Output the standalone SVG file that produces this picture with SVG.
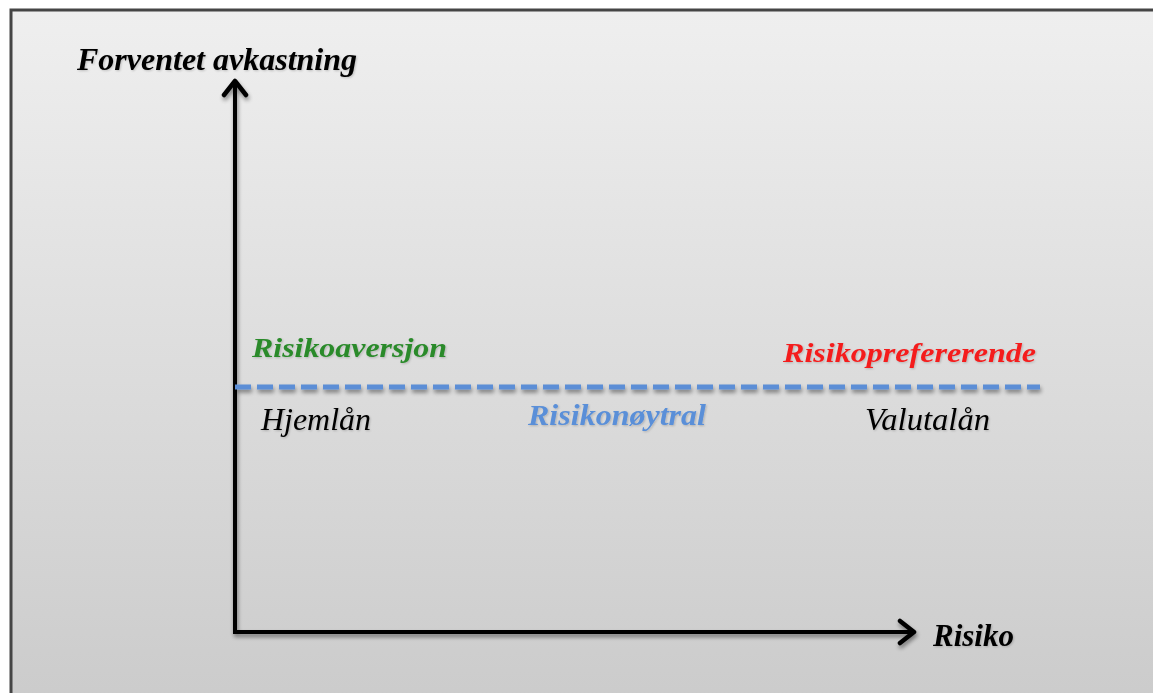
<svg xmlns="http://www.w3.org/2000/svg" width="1153" height="693" viewBox="0 0 1153 693">
  <defs>
    <linearGradient id="bg" x1="0" y1="0" x2="0" y2="1">
      <stop offset="0" stop-color="#efefef"/>
      <stop offset="1" stop-color="#cbcbcb"/>
    </linearGradient>
    <filter id="shadow" x="-5%" y="-5%" width="110%" height="110%">
      <feGaussianBlur in="SourceAlpha" stdDeviation="2"/>
      <feOffset dx="1" dy="3" result="b"/>
      <feComponentTransfer><feFuncA type="linear" slope="0.45"/></feComponentTransfer>
      <feMerge><feMergeNode/><feMergeNode in="SourceGraphic"/></feMerge>
    </filter>
    <filter id="textshadow" x="-5%" y="-20%" width="110%" height="140%">
      <feGaussianBlur in="SourceAlpha" stdDeviation="0.8"/>
      <feOffset dx="0.5" dy="1"/>
      <feComponentTransfer><feFuncA type="linear" slope="0.2"/></feComponentTransfer>
      <feMerge><feMergeNode/><feMergeNode in="SourceGraphic"/></feMerge>
    </filter>
    <marker id="head" viewBox="0 0 28 28" refX="22" refY="14" markerWidth="28" markerHeight="28" markerUnits="userSpaceOnUse" orient="auto">
      <path d="M8 3 L22 14 L8 25" fill="none" stroke="#000" stroke-width="4.5" stroke-linecap="round" stroke-linejoin="round"/>
    </marker>
    <style>
      .t { font-family: "Liberation Serif", "Times New Roman", serif; font-style: italic; font-size: 31px; filter: url(#textshadow); }
      .b { font-weight: bold; }
      .s27 { font-size: 27px; }
      .s28 { font-size: 28px; }
      .s29 { font-size: 29px; }
      .axis { stroke: #000; stroke-width: 4; fill: none; }
    </style>
  </defs>

  <rect x="0" y="0" width="1153" height="693" fill="#ffffff"/>
  <!-- framed panel -->
  <rect x="11" y="10" width="1160" height="700" fill="url(#bg)" stroke="#454545" stroke-width="3"/>

  <g id="connectors" filter="url(#shadow)">
    <path id="y-axis" class="axis" d="M235 632 L235 81" marker-end="url(#head)"/>
    <path id="x-axis" class="axis" d="M233 632 L914 632" marker-end="url(#head)"/>
    <line id="neutral-line" x1="235" y1="387" x2="1040" y2="387" stroke="#5b8ed6" stroke-width="5" stroke-dasharray="16 6"/>
  </g>

  <g id="label-y"><text class="t b" x="77" y="70" fill="#000" textLength="280" lengthAdjust="spacingAndGlyphs">Forventet avkastning</text></g>
  <g id="label-x"><text class="t b" x="933" y="646" fill="#000" textLength="81" lengthAdjust="spacingAndGlyphs">Risiko</text></g>
  <g id="risikoaversjon"><text class="t b s27" x="252" y="357" fill="#2a8a2a" textLength="195" lengthAdjust="spacingAndGlyphs">Risikoaversjon</text></g>
  <g id="risikoprefererende"><text class="t b s28" x="783" y="362" fill="#f41e1e" textLength="253" lengthAdjust="spacingAndGlyphs">Risikoprefererende</text></g>
  <g id="hjemlan"><text class="t" x="261" y="430" fill="#000" textLength="110" lengthAdjust="spacingAndGlyphs">Hjemlån</text></g>
  <g id="risikonoytral"><text class="t b s29" x="528" y="425" fill="#5a8fd8" textLength="178" lengthAdjust="spacingAndGlyphs">Risikonøytral</text></g>
  <g id="valutalan"><text class="t" x="865" y="430" fill="#000" textLength="125" lengthAdjust="spacingAndGlyphs">Valutalån</text></g>
</svg>
